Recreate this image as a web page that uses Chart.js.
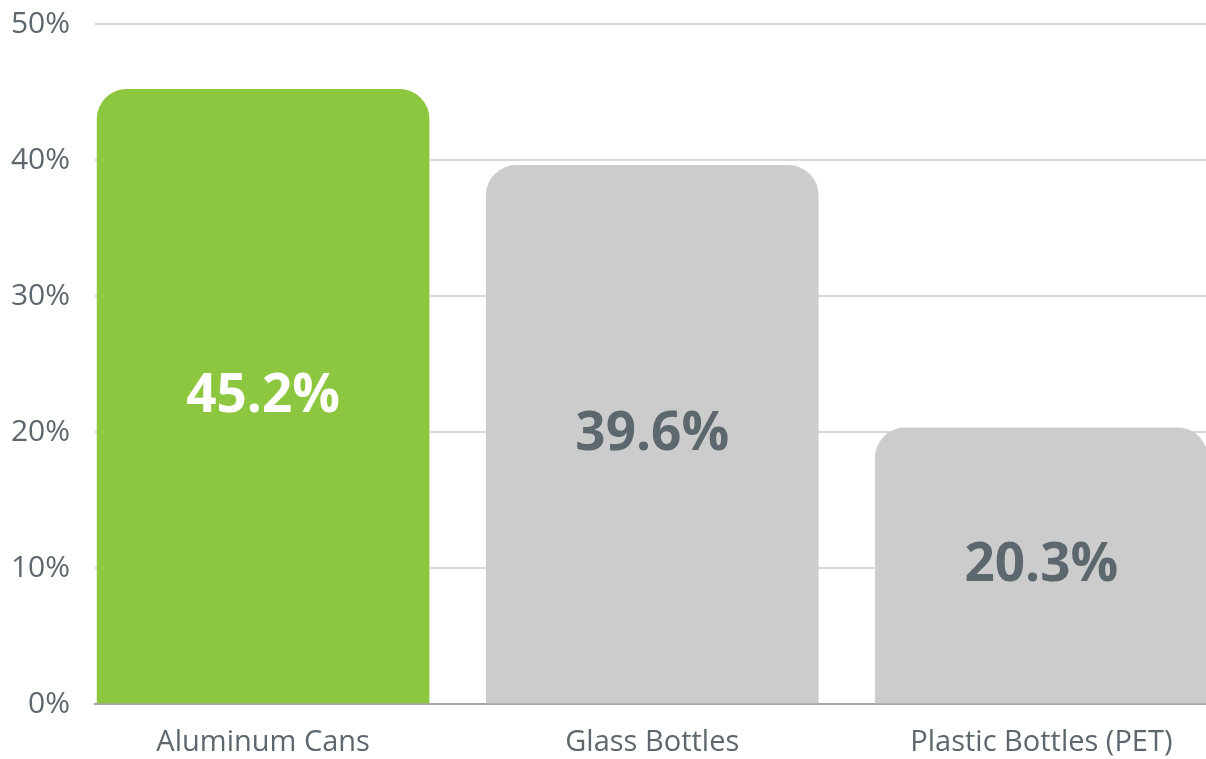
<!DOCTYPE html>
<html lang="en">
<head>
  <meta charset="UTF-8">
  <title>Container Share</title>
  <script src="https://cdn.jsdelivr.net/npm/chart.js"></script>
  <style>
    body { margin: 0; background: #fff; }
    #wrap { width: 1206px; height: 759px; }
  </style>
</head>
<body>
  <div id="wrap">
    <canvas id="shareChart" width="1206" height="759"></canvas>
  </div>

  <script>
    // chart data
    const categories = ['Aluminum Cans', 'Glass Bottles', 'Plastic Bottles (PET)'];
    const shares = [45.2, 39.6, 20.3];
    const yTicks = [0, 10, 20, 30, 40, 50];

    const barColors = ['#8dc63f', '#cccccc', '#cccccc'];
    const labelColors = ['#ffffff', '#5d676e', '#5d676e'];
    const textGray = '#5d676e';

    // draws the value text in the middle of each bar
    const barLabels = {
      id: 'barLabels',
      afterDatasetsDraw(chart) {
        const ctx = chart.ctx;
        const meta = chart.getDatasetMeta(0);
        const yScale = chart.scales.y;
        ctx.save();
        ctx.font = 'bold 53px "Open Sans"';
        ctx.textAlign = 'center';
        ctx.textBaseline = 'middle';
        meta.data.forEach((bar, i) => {
          ctx.fillStyle = labelColors[i];
          ctx.fillText(shares[i].toFixed(1) + '%', bar.x, yScale.getPixelForValue(shares[i] / 2));
        });
        ctx.restore();
      }
    };

    const ctx = document.getElementById('shareChart').getContext('2d');
    new Chart(ctx, {
      type: 'bar',
      data: {
        datasets: [{
          data: shares.map((v, i) => ({ x: i, y: v })),
          backgroundColor: barColors,
          borderRadius: 30,
          borderSkipped: 'bottom',
          barThickness: 332,
        }],
      },
      options: {
        responsive: false,
        animation: false,
        layout: { padding: { top: 24, right: 0, bottom: 0, left: 0 } },
        plugins: {
          legend: { display: false },
          tooltip: { enabled: false },
        },
        scales: {
          x: {
            type: 'linear',
            offset: false,
            min: -0.432,
            max: 2.423,
            afterBuildTicks: (scale) => {
              scale.ticks = categories.map((c, i) => ({ value: i }));
            },
            afterFit: (scale) => {
              scale.height = 55;
              scale.paddingLeft = 0;
              scale.paddingRight = 0;
            },
            grid: { display: false },
            border: { display: true, color: '#a6a6a6', width: 2 },
            ticks: {
              padding: 13,
              color: textGray,
              font: { family: 'Open Sans', size: 29 },
              callback: (v) => categories[v],
            },
          },
          y: {
            min: 0,
            max: 50,
            afterBuildTicks: (scale) => {
              scale.ticks = yTicks.map(v => ({ value: v }));
            },
            afterFit: (scale) => {
              // fixed axis box; tick padding should not push the plot down
              scale.width = 95;
              scale.paddingTop = 0;
              scale.paddingBottom = 0;
            },
            grid: { color: '#d9d9d9', lineWidth: 2, drawTicks: false },
            border: { display: false },
            ticks: {
              padding: 25,
              color: textGray,
              font: { family: 'Open Sans', size: 30 },
              callback: (v) => v + '%',
            },
          },
        },
      },
      plugins: [barLabels],
    });
  </script>
</body>
</html>
